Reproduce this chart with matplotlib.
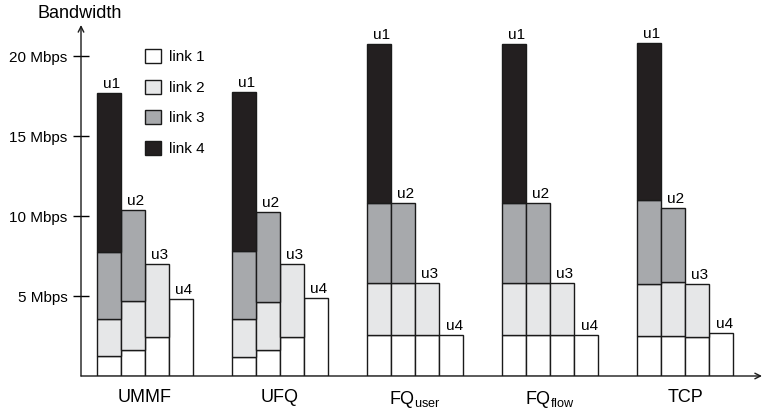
import matplotlib.pyplot as plt
from matplotlib.patches import Patch
import numpy as np

plt.rcParams["font.family"] = ["Liberation Sans", "DejaVu Sans"]
plt.rcParams["mathtext.fontset"] = "custom"
plt.rcParams["mathtext.rm"] = "Liberation Sans"

schemes = ["UMMF", "UFQ", r"FQ$_{\mathrm{user}}$", r"FQ$_{\mathrm{flow}}$", "TCP"]
users = ["u1", "u2", "u3", "u4"]
link_names = ["link 1", "link 2", "link 3", "link 4"]
link_colors = ["#ffffff", "#e6e7e8", "#a7a9ac", "#231f20"]

# bandwidth (Mbps) carried on each link, per scheme (rows) and user (cols)
link1 = np.array([
    [1.25, 1.63, 2.46, 4.81],
    [1.20, 1.60, 2.42, 4.85],
    [2.56, 2.56, 2.56, 2.56],
    [2.56, 2.56, 2.56, 2.56],
    [2.50, 2.50, 2.46, 2.67],
])
link2 = np.array([
    [2.29, 3.06, 4.54, 0],
    [2.34, 3.00, 4.58, 0],
    [3.27, 3.27, 3.27, 0],
    [3.27, 3.27, 3.27, 0],
    [3.25, 3.35, 3.29, 0],
])
link3 = np.array([
    [4.23, 5.69, 0, 0],
    [4.26, 5.67, 0, 0],
    [4.96, 4.96, 0, 0],
    [4.96, 4.96, 0, 0],
    [5.25, 4.67, 0, 0],
])
link4 = np.array([
    [9.93, 0, 0, 0],
    [9.95, 0, 0, 0],
    [9.96, 0, 0, 0],
    [9.96, 0, 0, 0],
    [9.83, 0, 0, 0],
])

fig = plt.figure(figsize=(7.65, 4.12), dpi=100)
ax = fig.add_axes([81 / 765, 36 / 412, 681 / 765, 351 / 412])

width = 0.178
offsets = (np.arange(4) - 1.5) * width
x = np.arange(len(schemes))

for g in range(len(schemes)):
    bottom = np.zeros(4)
    for vals, col in zip([link1, link2, link3, link4], link_colors):
        h = vals[g]
        mask = h > 0
        ax.bar(x[g] + offsets[mask], h[mask], width, bottom=bottom[mask],
               color=col, edgecolor="#1a1a1a", linewidth=1.0)
        bottom = bottom + h
    for u in range(4):
        ax.annotate(users[u], (x[g] + offsets[u], bottom[u]),
                    xytext=(3, 5), textcoords="offset pixels",
                    ha="center", va="baseline", fontsize=11)

ax.set_xlim(-0.474, 4.570)
ax.set_ylim(0, 21.94)

for s in ["top", "right", "left", "bottom"]:
    ax.spines[s].set_visible(False)
ax.annotate("", xy=(0, 1), xytext=(0, 0), xycoords="axes fraction",
            arrowprops=dict(arrowstyle="->", lw=1, color="#1a1a1a",
                            shrinkA=0, shrinkB=0))
ax.annotate("", xy=(1, 0), xytext=(0, 0), xycoords="axes fraction",
            arrowprops=dict(arrowstyle="->", lw=1, color="#1a1a1a",
                            shrinkA=0, shrinkB=0))

ax.set_yticks([5, 10, 15, 20])
ax.set_yticklabels(["5 Mbps", "10 Mbps", "15 Mbps", "20 Mbps"], fontsize=11)
ax.tick_params(axis="y", direction="inout", length=11.5, width=1, pad=4)
ax.set_xticks(x)
ax.set_xticklabels(schemes, fontsize=13)
ax.tick_params(axis="x", length=0, pad=9)

fig.text(80 / 765, 1 - 13 / 412, "Bandwidth", ha="center", va="center", fontsize=13)

handles = [Patch(facecolor=c, edgecolor="#1a1a1a", linewidth=1.0) for c in link_colors]
ax.legend(handles, link_names, loc="upper left", frameon=False, fontsize=11,
          bbox_to_anchor=(145 / 765, 1 - 49 / 412), bbox_transform=fig.transFigure,
          borderpad=0, borderaxespad=0, handlelength=1.05, handleheight=1.05,
          handletextpad=0.55, labelspacing=1.0)

fig.savefig("out.png", dpi=100)
